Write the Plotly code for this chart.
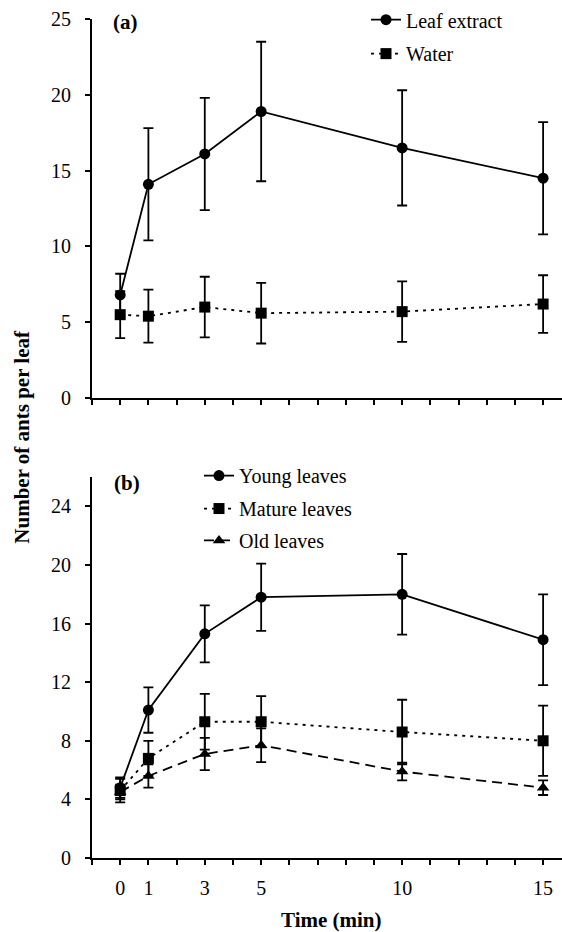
import plotly.graph_objects as go

# Sampling times (min)
time = [0, 1, 3, 5, 10, 15]

# Panel (a): leaf extract vs water
leaf_extract = [6.8, 14.1, 16.1, 18.9, 16.5, 14.5]
leaf_extract_err = [1.4, 3.7, 3.7, 4.6, 3.8, 3.7]
water = [5.5, 5.4, 6.0, 5.6, 5.7, 6.2]
water_err = [1.55, 1.75, 2.0, 2.0, 2.0, 1.9]

# Panel (b): leaf age
young = [4.8, 10.1, 15.3, 17.8, 18.0, 14.9]
young_err = [0.7, 1.55, 1.95, 2.3, 2.75, 3.1]
mature = [4.6, 6.8, 9.3, 9.3, 8.6, 8.0]
mature_err = [0.8, 1.2, 1.9, 1.75, 2.2, 2.4]
old = [4.5, 5.6, 7.1, 7.7, 5.9, 4.8]
old_err = [0.5, 0.8, 1.1, 1.15, 0.6, 0.5]

x_labels = {0: "0", 1: "1", 3: "3", 5: "5", 10: "10", 15: "15"}
x_ticks = list(range(-1, 17))

FONT = "'Liberation Serif', 'Times New Roman', Times, 'DejaVu Serif', serif"
SOLID = "solid"
DOTTED = "3px,5px"
DASHED = "10px,6px"


def series(x, y, err, name, symbol, dash, xa, ya, legend):
    return go.Scatter(
        x=x, y=y, name=name, mode="lines+markers",
        xaxis=xa, yaxis=ya, legend=legend, showlegend=True,
        line=dict(color="black", width=1.8, dash=dash),
        marker=dict(symbol=symbol, size=11, color="black"),
        error_y=dict(type="data", array=err, visible=True,
                     color="black", thickness=1.8, width=5),
    )


fig = go.Figure()
fig.add_trace(series(time, water, water_err, "Water", "square", DOTTED, "x", "y", "legend3"))
fig.add_trace(series(time, leaf_extract, leaf_extract_err, "Leaf extract", "circle", SOLID, "x", "y", "legend2"))
fig.add_trace(series(time, old, old_err, "Old leaves", "triangle-up", DASHED, "x2", "y2", "legend6"))
fig.add_trace(series(time, mature, mature_err, "Mature leaves", "square", DOTTED, "x2", "y2", "legend5"))
fig.add_trace(series(time, young, young_err, "Young leaves", "circle", SOLID, "x2", "y2", "legend4"))

axis_common = dict(
    showline=True, linecolor="black", linewidth=2, mirror=False,
    ticks="outside", ticklen=5, tickwidth=2, tickcolor="black",
    showgrid=False, zeroline=False,
    tickfont=dict(family=FONT, size=20, color="black"),
)

xrange = [-1, 15.67]

legend_common = dict(
    font=dict(family=FONT, size=20, color="black"),
    bgcolor="rgba(0,0,0,0)", borderwidth=0,
    xanchor="left", yanchor="middle", itemclick=False,
)


def ypix(p):
    # convert figure pixel row to paper fraction (plot area 17..858)
    return (858.3 - p) / 841.0


def xpix(p):
    return (p - 92.0) / 470.0


fig.update_layout(
    width=562, height=932,
    margin=dict(l=92, r=0, t=17, b=74),
    paper_bgcolor="white", plot_bgcolor="white",
    font=dict(family=FONT, color="black"),
    xaxis=dict(axis_common, domain=[0, 1], range=xrange, anchor="y",
               tickvals=x_ticks, ticktext=["" for _ in x_ticks]),
    yaxis=dict(axis_common, domain=[0.5482, 1.0], range=[0, 25], anchor="x",
               tickvals=[0, 5, 10, 15, 20, 25], ticklabelstandoff=10),
    xaxis2=dict(axis_common, domain=[0, 1], range=xrange, anchor="y2",
                tickvals=x_ticks, ticktext=[x_labels.get(t, "") for t in x_ticks],
                ticklabelstandoff=6),
    yaxis2=dict(axis_common, domain=[0.0, 0.454], range=[0, 26], anchor="x2",
                tickvals=[0, 4, 8, 12, 16, 20, 24], ticklabelstandoff=10),
    legend=dict(visible=False),
    legend2=dict(legend_common, x=xpix(366), y=ypix(18)),
    legend3=dict(legend_common, x=xpix(366), y=ypix(52)),
    legend4=dict(legend_common, x=xpix(199), y=ypix(475)),
    legend5=dict(legend_common, x=xpix(199), y=ypix(508)),
    legend6=dict(legend_common, x=xpix(199), y=ypix(540)),
    annotations=[
        dict(text="<b>(a)</b>", xref="paper", yref="paper", x=xpix(111), y=ypix(20),
             xanchor="left", yanchor="middle", showarrow=False,
             font=dict(family=FONT, size=21, color="black")),
        dict(text="<b>(b)</b>", xref="paper", yref="paper", x=xpix(112), y=ypix(482),
             xanchor="left", yanchor="middle", showarrow=False,
             font=dict(family=FONT, size=21, color="black")),
        dict(text="<b>Number of ants per leaf</b>", xref="paper", yref="paper",
             x=xpix(22), y=ypix(436), textangle=-90, xanchor="center", yanchor="middle",
             showarrow=False, font=dict(family=FONT, size=21, color="black")),
        dict(text="<b>Time (min)</b>", xref="x2", yref="paper",
             x=7.5, y=ypix(920), xanchor="center", yanchor="middle",
             showarrow=False, font=dict(family=FONT, size=21, color="black")),
    ],
)

fig.write_html("out.html")
